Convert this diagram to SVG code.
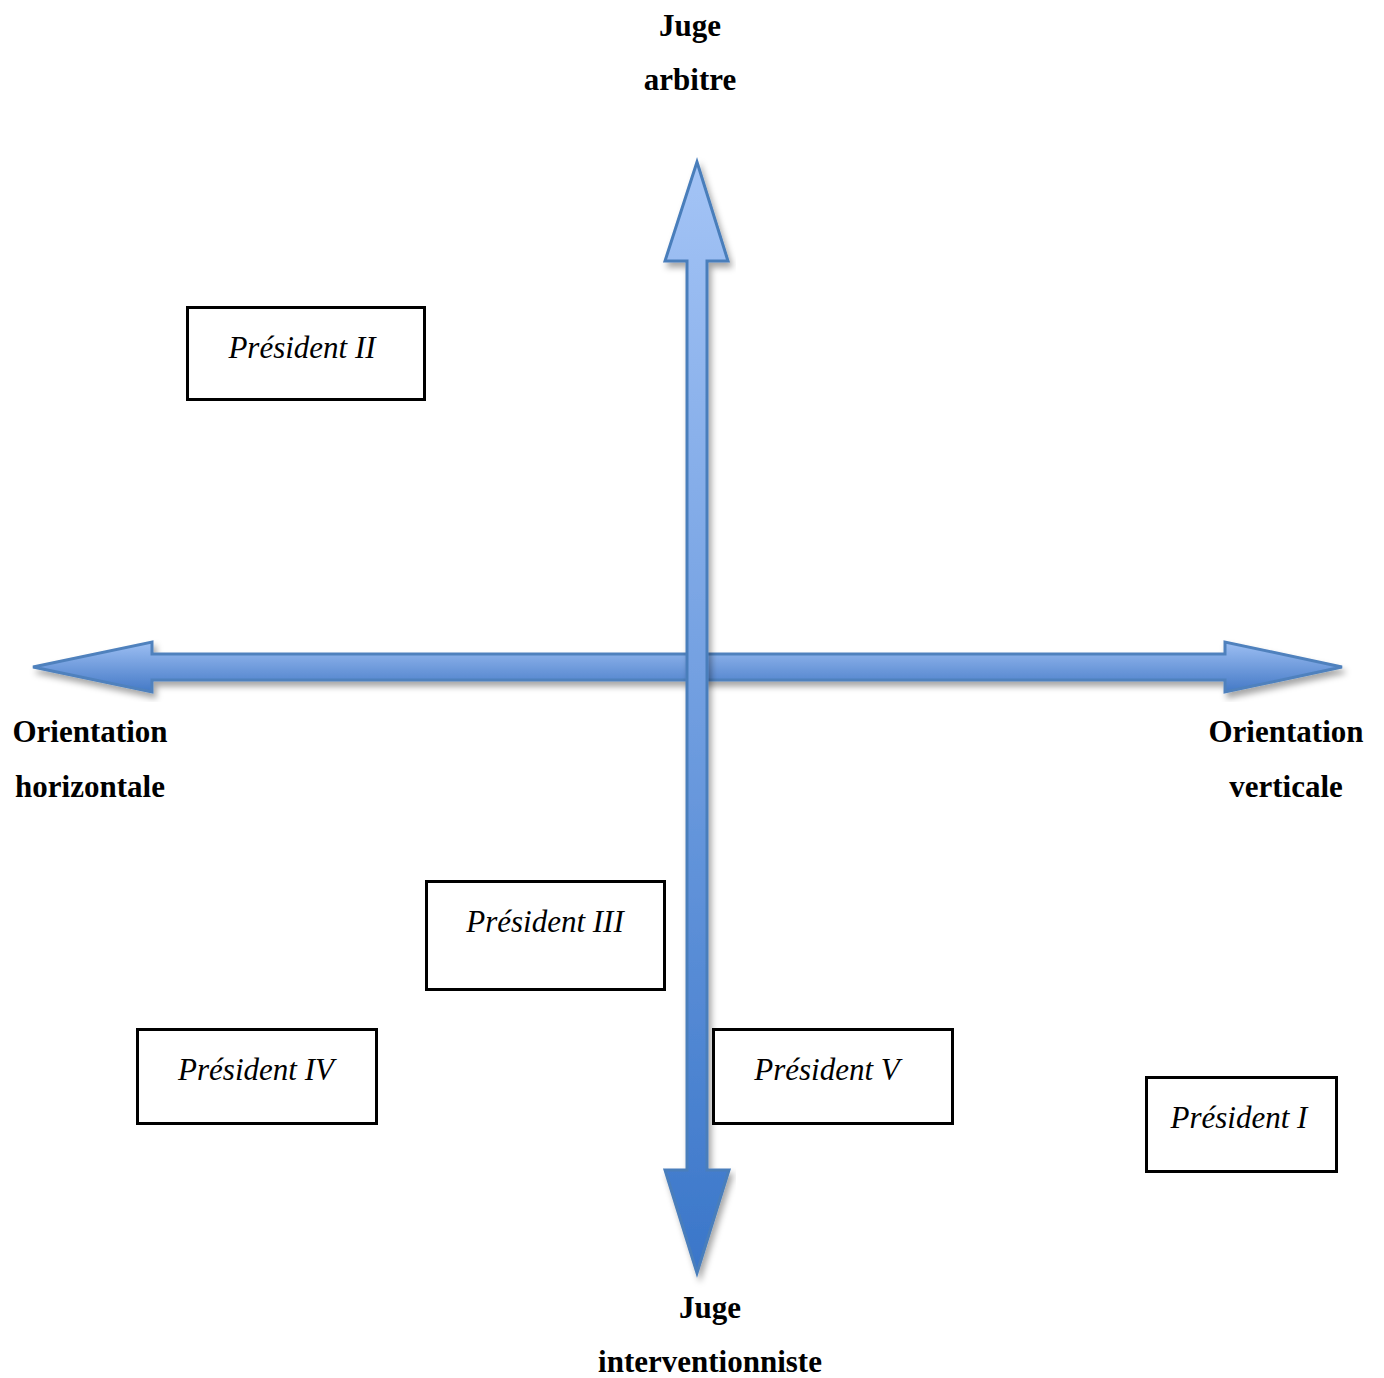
<svg xmlns="http://www.w3.org/2000/svg" width="1384" height="1378" viewBox="0 0 1384 1378">
<style>
.lbl{font-family:"Liberation Serif","Times New Roman",serif;font-weight:bold;font-size:31px;fill:#000;text-anchor:middle}
.box rect{fill:#fff;stroke:#000;stroke-width:3}
.box text{font-family:"Liberation Serif","Times New Roman",serif;font-style:italic;font-size:31px;fill:#000;text-anchor:middle}
</style>
<defs>
<linearGradient id="gh" x1="0" y1="0" x2="0" y2="1">
<stop offset="0" stop-color="#9dbff3"/>
<stop offset="1" stop-color="#4479c6"/>
</linearGradient>
<linearGradient id="gv" x1="0" y1="0" x2="0" y2="1" gradientUnits="userSpaceOnUse" x1v="0">
<stop offset="0" stop-color="#a4c4f6"/>
<stop offset="1" stop-color="#3a76c9"/>
</linearGradient>
<linearGradient id="gvu" gradientUnits="userSpaceOnUse" x1="0" y1="162" x2="0" y2="1273">
<stop offset="0" stop-color="#a4c4f6"/>
<stop offset="1" stop-color="#3a76c9"/>
</linearGradient>
<filter id="sh" x="-10%" y="-10%" width="120%" height="130%">
<feDropShadow dx="3" dy="5" stdDeviation="3" flood-color="#000" flood-opacity="0.35"/>
</filter>
</defs>
<g id="connectors">
<path id="axis-horizontal" d="M33,667 L152,642 L152,654 L1225,654 L1225,642 L1342,667 L1225,692 L1225,680 L152,680 L152,692 Z" fill="url(#gh)" stroke="#4f81bd" stroke-width="3" stroke-linejoin="miter" filter="url(#sh)"/>
<path id="axis-vertical" d="M697,162 L728,261 L707,261 L707,1170 L729,1170 L697,1273 L665,1170 L687,1170 L687,261 L665,261 Z" fill="url(#gvu)" stroke="#4a7ebb" stroke-width="3" stroke-linejoin="miter" filter="url(#sh)"/>
</g>
<g id="labels">
<text class="lbl" x="690" y="36">Juge</text>
<text class="lbl" x="690" y="90">arbitre</text>
<text class="lbl" x="90" y="742">Orientation</text>
<text class="lbl" x="90" y="797">horizontale</text>
<text class="lbl" x="1286" y="742">Orientation</text>
<text class="lbl" x="1286" y="797">verticale</text>
<text class="lbl" x="710" y="1318">Juge</text>
<text class="lbl" x="710" y="1372">interventionniste</text>
</g>
<g id="president-2" class="box">
<rect x="187.5" y="307.5" width="237" height="92"/>
<text x="302" y="358">Président II</text>
</g>
<g id="president-3" class="box">
<rect x="426.5" y="881.5" width="238" height="108"/>
<text x="545" y="932">Président III</text>
</g>
<g id="president-4" class="box">
<rect x="137.5" y="1029.5" width="239" height="94"/>
<text x="256" y="1080">Président IV</text>
</g>
<g id="president-5" class="box">
<rect x="713.5" y="1029.5" width="239" height="94"/>
<text x="827" y="1080">Président V</text>
</g>
<g id="president-1" class="box">
<rect x="1146.5" y="1077.5" width="190" height="94"/>
<text x="1239" y="1128">Président I</text>
</g>
</svg>
